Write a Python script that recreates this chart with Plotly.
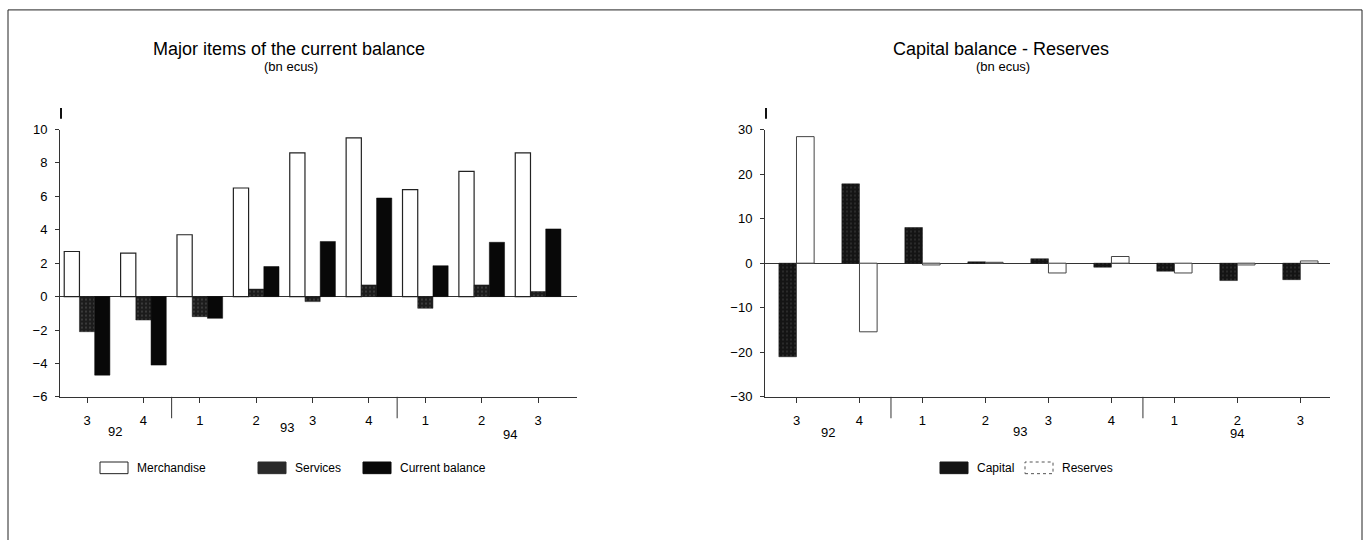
import plotly.graph_objects as go

# ---------------- data ----------------
quarters = ["3", "4", "1", "2", "3", "4", "1", "2", "3"]
years = ["92", "93", "94"]
left_year_pos = [0.5, 3.55, 7.5]
right_year_pos = [0.5, 3.55, 7.0]
year_sep = [1.5, 5.5]

merchandise = [2.7, 2.6, 3.7, 6.5, 8.6, 9.5, 6.4, 7.5, 8.6]
services = [-2.1, -1.4, -1.2, 0.45, -0.3, 0.7, -0.7, 0.7, 0.3]
current_balance = [-4.7, -4.1, -1.3, 1.8, 3.3, 5.9, 1.85, 3.25, 4.05]

capital = [-21.0, 17.8, 8.0, 0.3, 1.0, -0.9, -1.8, -3.9, -3.7]
reserves = [28.4, -15.4, -0.4, 0.2, -2.2, 1.5, -2.2, -0.4, 0.5]

W, H = 1370, 540
FONT = "Liberation Sans, Arial, sans-serif"
INK = "#000000"

def px(x):
    return x / W

def py(y):
    return 1 - y / H

L_DOM = [px(60), px(577)]
R_DOM = [px(765), px(1330)]
Y_DOM = [py(401), py(126)]
L_RANGE = [-0.48, 8.69]
R_RANGE = [-0.5, 8.47]

xs = list(range(len(quarters)))

fig = go.Figure()

# left chart
bw = 0.27
fig.add_trace(go.Bar(x=xs, y=merchandise, name="Merchandise", width=bw, offset=-1.5 * bw,
                     marker=dict(color="white", line=dict(color="#222", width=1.2)),
                     xaxis="x", yaxis="y", showlegend=False))
fig.add_trace(go.Bar(x=xs, y=services, name="Services", width=bw, offset=-0.5 * bw,
                     marker=dict(color="#1c1c1c", line=dict(color="#1c1c1c", width=0.5),
                                 pattern=dict(shape=".", fgcolor="#8a8a8a", size=4, solidity=0.15)),
                     xaxis="x", yaxis="y", showlegend=False))
fig.add_trace(go.Bar(x=xs, y=current_balance, name="Current balance", width=bw, offset=0.5 * bw,
                     marker=dict(color="#080808", line=dict(color="#080808", width=0.5)),
                     xaxis="x", yaxis="y", showlegend=False))

# right chart
bw2 = 0.28
fig.add_trace(go.Bar(x=xs, y=capital, name="Capital", width=bw2, offset=-bw2,
                     marker=dict(color="#141414", line=dict(color="#141414", width=0.5),
                                 pattern=dict(shape=".", fgcolor="#7a7a7a", size=4, solidity=0.12)),
                     xaxis="x2", yaxis="y2", showlegend=False))
fig.add_trace(go.Bar(x=xs, y=reserves, name="Reserves", width=bw2, offset=0,
                     marker=dict(color="white", line=dict(color="#444", width=1)),
                     xaxis="x2", yaxis="y2", showlegend=False))

axis_common = dict(showgrid=False, showline=True, linecolor="#333", linewidth=1,
                   ticks="outside", tickcolor="#333", tickwidth=1,
                   tickfont=dict(family=FONT, size=13, color=INK), fixedrange=True)

fig.update_layout(
    width=W, height=H,
    margin=dict(l=0, r=0, t=0, b=0),
    paper_bgcolor="white", plot_bgcolor="white",
    barmode="overlay",
    font=dict(family=FONT, color=INK),
    xaxis=dict(domain=L_DOM, anchor="y", range=L_RANGE, tickmode="array",
               tickvals=xs, ticktext=quarters, ticklen=5, ticklabelstandoff=7,
               zeroline=False, **axis_common),
    yaxis=dict(domain=Y_DOM, anchor="x", range=[-6, 10], tickmode="array",
               tickvals=[-6, -4, -2, 0, 2, 4, 6, 8, 10], ticklen=4, ticklabelstandoff=5,
               zeroline=True, zerolinecolor="#333", zerolinewidth=1, **axis_common),
    xaxis2=dict(domain=R_DOM, anchor="y2", range=R_RANGE, tickmode="array",
                tickvals=xs, ticktext=quarters, ticklen=5, ticklabelstandoff=7,
                zeroline=False, **axis_common),
    yaxis2=dict(domain=Y_DOM, anchor="x2", range=[-30, 30], tickmode="array",
                tickvals=[-30, -20, -10, 0, 10, 20, 30], ticklen=4, ticklabelstandoff=5,
                zeroline=True, zerolinecolor="#333", zerolinewidth=1, **axis_common),
)

shapes = []
annotations = []

# outer frame
shapes.append(dict(type="rect", xref="paper", yref="paper", x0=px(8), x1=px(1362),
                   y0=-0.02, y1=py(3), line=dict(color="#222", width=1), fillcolor="rgba(0,0,0,0)"))

for xa, dom, ypos, yys in (("x", L_DOM, left_year_pos, (437, 433, 440)),
                           ("x2", R_DOM, right_year_pos, (438, 437, 439))):
    # year separators
    for s in year_sep:
        shapes.append(dict(type="line", xref=xa, yref="paper", x0=s, x1=s,
                           y0=py(401), y1=py(423), line=dict(color="#333", width=1)))
    # small mark above axis
    shapes.append(dict(type="line", xref="paper", yref="paper", x0=dom[0] + px(1), x1=dom[0] + px(1),
                       y0=py(104), y1=py(115), line=dict(color="#111", width=2)))
    # year labels
    for yl, yp, yy in zip(years, ypos, yys):
        annotations.append(dict(text=yl, x=yp, xref=xa, y=py(yy), yref="paper",
                                showarrow=False, xanchor="center", yanchor="middle",
                                font=dict(family=FONT, size=13, color=INK)))

# titles
for cx, title in ((289, "Major items of the current balance"), (1001, "Capital balance - Reserves")):
    annotations.append(dict(text=title, x=px(cx), y=py(43), xref="paper", yref="paper",
                            showarrow=False, xanchor="center", yanchor="middle",
                            font=dict(family=FONT, size=18, color=INK)))
    annotations.append(dict(text="(bn ecus)", x=px(cx + 2), y=py(61), xref="paper", yref="paper",
                            showarrow=False, xanchor="center", yanchor="middle",
                            font=dict(family=FONT, size=13, color=INK)))

# legends (swatches + labels)
legend_items = [
    (100, "Merchandise", "white", "#222", None),
    (258, "Services", "#2a2a2a", "#2a2a2a", None),
    (363, "Current balance", "#080808", "#080808", None),
    (940, "Capital", "#141414", "#141414", None),
    (1025, "Reserves", "white", "#555", "dot"),
]
for x0, label, fill, edge, dash in legend_items:
    shapes.append(dict(type="rect", xref="paper", yref="paper", x0=px(x0), x1=px(x0 + 28),
                       y0=py(480), y1=py(468), fillcolor=fill,
                       line=dict(color=edge, width=1, dash=dash or "solid")))
    annotations.append(dict(text=label, x=px(x0 + 35), y=py(474), xref="paper", yref="paper",
                            showarrow=False, xanchor="left", yanchor="middle",
                            font=dict(family=FONT, size=12, color=INK)))

fig.update_layout(shapes=shapes, annotations=annotations)

fig.write_html("out.html", config={"displayModeBar": False},
               post_script="document.body.style.margin='0px';")
